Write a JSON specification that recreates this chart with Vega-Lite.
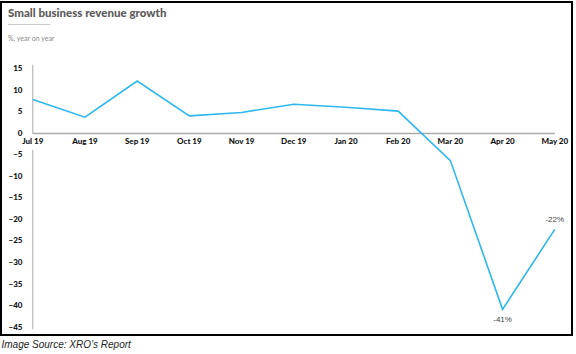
{
  "$schema": "https://vega.github.io/schema/vega-lite/v6.json",
  "width": 571,
  "height": 333,
  "autosize": {"type": "none"},
  "padding": {"left": 1, "top": 2, "right": 4, "bottom": 19},
  "background": "white",
  "title": {
    "text": "Small business revenue growth",
    "subtitle": ["────────", "%, year on year"],
    "orient": "top",
    "anchor": "start",
    "frame": "group",
    "offset": -40,
    "dx": 7,
    "font": "Lato",
    "fontSize": 11.5,
    "fontWeight": 900,
    "color": "#5a5a5a",
    "subtitleFont": "Lato",
    "subtitleFontSize": 7,
    "subtitleColor": "#8a8a8a",
    "subtitleLineHeight": 14,
    "subtitlePadding": 2
  },
  "datasets": {
    "series": [
      {"idx": 0, "month": "Jul 19", "growth": 7.9},
      {"idx": 1, "month": "Aug 19", "growth": 3.8},
      {"idx": 2, "month": "Sep 19", "growth": 12.2},
      {"idx": 3, "month": "Oct 19", "growth": 4.1},
      {"idx": 4, "month": "Nov 19", "growth": 4.9},
      {"idx": 5, "month": "Dec 19", "growth": 6.8},
      {"idx": 6, "month": "Jan 20", "growth": 6.1},
      {"idx": 7, "month": "Feb 20", "growth": 5.2},
      {"idx": 8, "month": "Mar 20", "growth": -6.3},
      {"idx": 9, "month": "Apr 20", "growth": -40.9, "note": "-41%"},
      {"idx": 10, "month": "May 20", "growth": -22.3, "note": "-22%"}
    ],
    "yaxis": [
      {"x": 0, "y1": 0, "y2": 16},
      {"x": 0, "y1": -3.8, "y2": -45.5}
    ],
    "zero": [
      {"x1": 0, "x2": 10, "y": 0}
    ]
  },
  "layer": [
    {
      "data": {"name": "yaxis"},
      "mark": {"type": "rule", "color": "#aaaaaa", "strokeWidth": 1},
      "encoding": {
        "x": {"field": "x", "type": "quantitative", "scale": {"domain": [-0.609, 10.33], "nice": false, "zero": false},
          "axis": {"title": "Image Source: XRO’s Report", "labels": false, "ticks": false, "domain": false, "grid": false,
            "titleAnchor": "start", "titleFont": "Liberation Sans", "titleFontStyle": "italic", "titleFontWeight": "normal",
            "titleFontSize": 10, "titleColor": "#222222", "titlePadding": 4}},
        "y": {"field": "y1", "type": "quantitative", "scale": {"domain": [-46.86, 30.58], "nice": false, "zero": false},
          "axis": {"title": null, "values": [-45, -40, -35, -30, -25, -20, -15, -10, -5, 0, 5, 10, 15], "tickCount": 20,
            "labelOverlap": false, "labelFlush": false, "labelBound": false,
            "domain": false, "ticks": false, "tickSize": 0, "grid": false, "offset": -21, "labelPadding": 0,
            "labelFont": "Lato", "labelFontWeight": 900, "labelFontSize": 8, "labelColor": "#111111"}},
        "y2": {"field": "y2"}
      }
    },
    {
      "data": {"name": "zero"},
      "mark": {"type": "rule", "color": "#aaaaaa", "strokeWidth": 1.5},
      "encoding": {
        "x": {"field": "x1", "type": "quantitative"},
        "x2": {"field": "x2"},
        "y": {"field": "y", "type": "quantitative"}
      }
    },
    {
      "data": {"name": "series"},
      "mark": {"type": "text", "font": "Lato", "fontWeight": 900, "fontSize": 8, "color": "#111111", "baseline": "middle", "dy": 8.5},
      "encoding": {
        "x": {"field": "idx", "type": "quantitative"},
        "y": {"datum": 0, "type": "quantitative"},
        "text": {"field": "month"}
      }
    },
    {
      "data": {"name": "series"},
      "mark": {"type": "line", "color": "#2cb8ef", "strokeWidth": 1.6},
      "encoding": {
        "x": {"field": "idx", "type": "quantitative"},
        "y": {"field": "growth", "type": "quantitative"}
      }
    },
    {
      "data": {"name": "series"},
      "transform": [{"filter": "datum.month == 'Apr 20'"}],
      "mark": {"type": "text", "font": "Liberation Sans", "fontSize": 8, "color": "#444444", "baseline": "middle", "dy": 11},
      "encoding": {
        "x": {"field": "idx", "type": "quantitative"},
        "y": {"field": "growth", "type": "quantitative"},
        "text": {"field": "note"}
      }
    },
    {
      "data": {"name": "series"},
      "transform": [{"filter": "datum.month == 'May 20'"}],
      "mark": {"type": "text", "font": "Liberation Sans", "fontSize": 8, "color": "#444444", "baseline": "middle", "dy": -9},
      "encoding": {
        "x": {"field": "idx", "type": "quantitative"},
        "y": {"field": "growth", "type": "quantitative"},
        "text": {"field": "note"}
      }
    }
  ],
  "config": {
    "view": {"stroke": "#000000", "strokeWidth": 2},
    "axisY": {"labelOverlap": false, "labelFlush": false, "labelBound": false}
  }
}
